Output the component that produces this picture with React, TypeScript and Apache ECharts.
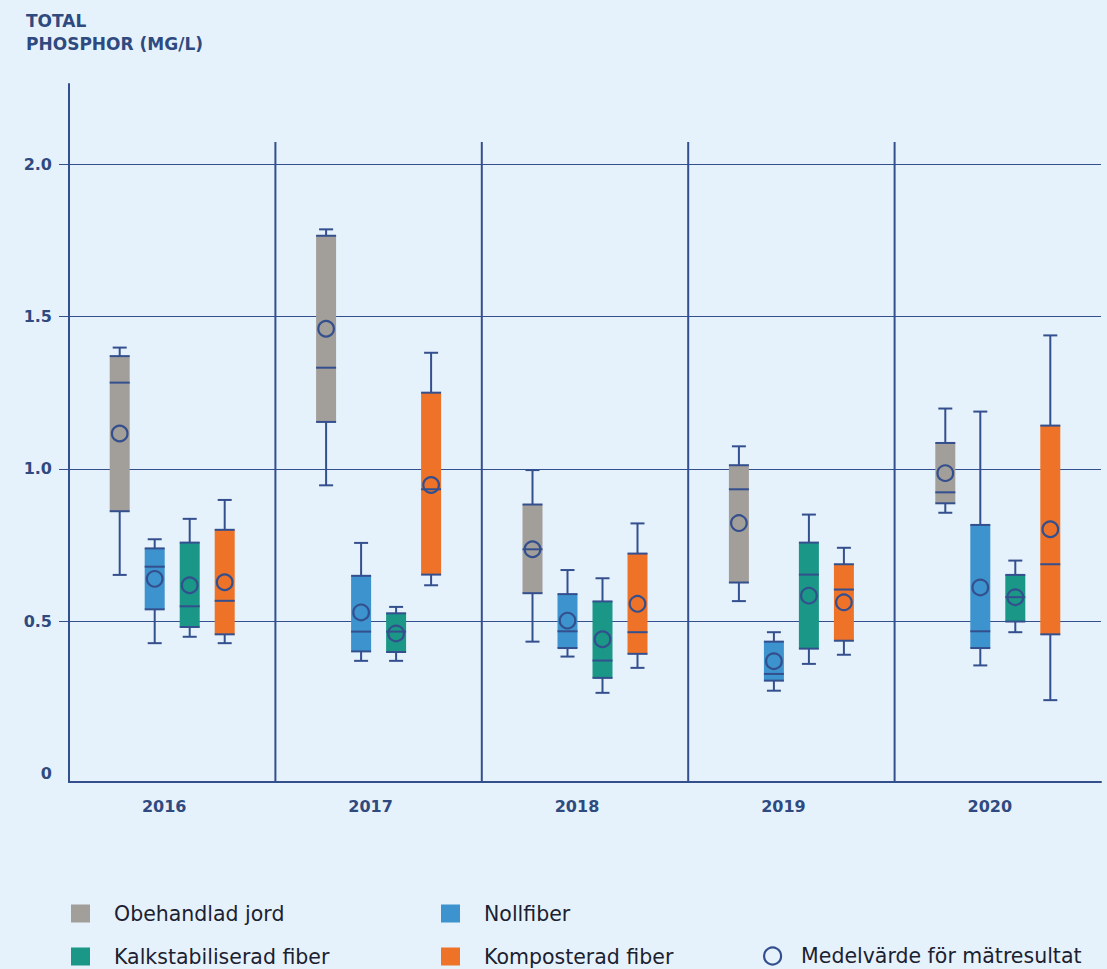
import React, { useEffect, useRef } from "react";
import * as echarts from "echarts";

// Years on the category axis
const years = ["2016", "2017", "2018", "2019", "2020"];

// Treatment groups (one box per group and year)
const groupNames = ["Obehandlad jord", "Nollfiber", "Kalkstabiliserad fiber", "Komposterad fiber"];
const meanName = "Medelvärde för mätresultat";

// Box statistics per year: [lower whisker, Q1, median, Q3, upper whisker] (mg/l)
const obehandladJord = [
  [0.652, 0.861, 1.283, 1.37, 1.398],
  [0.946, 1.154, 1.332, 1.765, 1.786],
  [0.433, 0.592, 0.736, 0.883, 0.996],
  [0.566, 0.627, 0.933, 1.012, 1.074],
  [0.856, 0.887, 0.923, 1.085, 1.198],
];
const nollfiber = [
  [0.428, 0.539, 0.679, 0.739, 0.769],
  [0.37, 0.401, 0.466, 0.649, 0.757],
  [0.384, 0.412, 0.467, 0.589, 0.668],
  [0.272, 0.305, 0.327, 0.433, 0.464],
  [0.355, 0.412, 0.467, 0.816, 1.188],
];
const kalkstabiliseradFiber = [
  [0.449, 0.481, 0.549, 0.758, 0.836],
  [0.37, 0.399, 0.466, 0.526, 0.547],
  [0.265, 0.314, 0.371, 0.565, 0.641],
  [0.36, 0.41, 0.653, 0.758, 0.85],
  [0.464, 0.499, 0.579, 0.652, 0.699],
];
const komposteradFiber = [
  [0.428, 0.457, 0.567, 0.8, 0.898],
  [0.618, 0.653, 0.933, 1.25, 1.381],
  [0.347, 0.393, 0.464, 0.722, 0.821],
  [0.39, 0.436, 0.604, 0.687, 0.741],
  [0.241, 0.457, 0.687, 1.142, 1.438],
];

// Mean values per group and year (mg/l)
const meanObehandladJord = [1.116, 1.46, 0.736, 0.822, 0.986];
const meanNollfiber = [0.639, 0.529, 0.502, 0.369, 0.611];
const meanKalkstabiliseradFiber = [0.618, 0.46, 0.441, 0.584, 0.579];
const meanKomposteradFiber = [0.628, 0.947, 0.557, 0.562, 0.802];

// Y axis
const yMin = -0.0276;
const yMax = 2.263;
const yTickValues = [0.5, 1, 1.5, 2];
const yLabelValues = [0, 0.5, 1, 1.5, 2];

const boxStats = [obehandladJord, nollfiber, kalkstabiliseradFiber, komposteradFiber];
const groupMeans = [meanObehandladJord, meanNollfiber, meanKalkstabiliseradFiber, meanKomposteradFiber];
const groupColors = ["#a29e99", "#3c93cd", "#1a9786", "#ee7328"];

const NAVY = "#344f8e";
const TEXT_NAVY = "#2f4a7f";
const BG = "#e6f2fb";
const SLOT_STEP = 35;
const BOX_HALF = 10;
const CAP_HALF = 7;

const slotX = (api: any, i: number, slot: number) =>
  api.coord([i, 0])[0] + (slot - 1.5) * SLOT_STEP;

const boxRenderer = (slot: number, color: string) => (params: any, api: any) => {
  const i = api.value(0);
  const cx = slotX(api, i, slot);
  const py = (k: number) => api.coord([i, api.value(k)])[1];
  const yLo = py(1);
  const yQ1 = py(2);
  const yMed = py(3);
  const yQ3 = py(4);
  const yHi = py(5);
  const ln = { stroke: NAVY, lineWidth: 2 };
  const hline = (y: number, half: number) => ({
    type: "line",
    shape: { x1: cx - half, y1: y, x2: cx + half, y2: y },
    style: ln,
  });
  return {
    type: "group",
    children: [
      { type: "line", shape: { x1: cx, y1: yHi, x2: cx, y2: yQ3 }, style: ln },
      { type: "line", shape: { x1: cx, y1: yQ1, x2: cx, y2: yLo }, style: ln },
      hline(yHi, CAP_HALF),
      hline(yLo, CAP_HALF),
      {
        type: "rect",
        shape: { x: cx - BOX_HALF, y: yQ3, width: BOX_HALF * 2, height: yQ1 - yQ3 },
        style: { fill: color },
      },
      hline(yQ3, BOX_HALF),
      hline(yQ1, BOX_HALF),
      hline(yMed, BOX_HALF),
    ],
  };
};

const meanRenderer = (params: any, api: any) => {
  const i = api.value(0);
  const slot = api.value(1);
  const cx = slotX(api, i, slot);
  const cy = api.coord([i, api.value(2)])[1];
  return {
    type: "circle",
    shape: { cx, cy, r: 7.8 },
    style: { fill: "none", stroke: NAVY, lineWidth: 2.2 },
  };
};

const dividerRenderer = (params: any, api: any) => {
  const v = api.value(0);
  const bw = api.size([1, 0])[0];
  const x = api.coord([v, 0])[0] - bw / 2;
  const cs = params.coordSys;
  return {
    type: "line",
    shape: { x1: x, y1: cs.y + 58, x2: x, y2: cs.y + cs.height },
    style: { stroke: NAVY, lineWidth: 2 },
  };
};

const legendText = {
  fontFamily: "DejaVu Sans",
  fontSize: 20.5,
  color: "#1b2131",
  lineHeight: 18,
};

const makeLegend = (name: string, left: number, top: number, extra: any = {}) => ({
  left,
  top,
  padding: 0,
  itemWidth: 19,
  itemHeight: 18,
  icon: "rect",
  selectedMode: false,
  textStyle: { ...legendText, padding: [0, 0, 0, 19] },
  data: [name],
  ...extra,
});

export default function App() {
  const ref = useRef<HTMLDivElement>(null);

  useEffect(() => {
    document.body.style.margin = "0";
    if (!ref.current) return;
    const chart = echarts.init(ref.current, undefined, { renderer: "svg" });

    const boxSeries = groupNames.map((name, g) => ({
      name,
      type: "custom",
      xAxisIndex: 0,
      yAxisIndex: 0,
      itemStyle: { color: groupColors[g] },
      renderItem: boxRenderer(g, groupColors[g]),
      encode: { x: 0, y: [1, 2, 3, 4, 5] },
      data: boxStats[g].map((s, i) => [i, ...s]),
      z: 3,
    }));

    const meanData: number[][] = [];
    groupMeans.forEach((arr, g) => arr.forEach((v, i) => meanData.push([i, g, v])));

    const option: any = {
      animation: false,
      backgroundColor: BG,
      title: {
        text: "TOTAL\nPHOSPHOR (MG/L)",
        left: 26,
        top: 9,
        padding: 0,
        textStyle: {
          fontFamily: "DejaVu Sans",
          fontWeight: "bold",
          fontSize: 17,
          lineHeight: 23,
          color: TEXT_NAVY,
        },
      },
      grid: { left: 69, right: 6, top: 84, bottom: 187, containLabel: false },
      xAxis: {
        type: "category",
        data: years,
        boundaryGap: true,
        axisLine: { show: true, onZero: false, lineStyle: { color: NAVY, width: 2 } },
        axisTick: { show: false },
        splitLine: { show: false },
        axisLabel: {
          margin: 16,
          fontFamily: "DejaVu Sans",
          fontWeight: "bold",
          fontSize: 16,
          color: TEXT_NAVY,
          padding: [0, 16, 0, 0],
        },
      },
      yAxis: {
        type: "value",
        min: yMin,
        max: yMax,
        axisLine: { show: true, lineStyle: { color: NAVY, width: 2 } },
        axisTick: {
          show: true,
          length: 10,
          customValues: yTickValues,
          lineStyle: { color: NAVY, width: 1 },
        },
        splitLine: {
          show: true,
          showMinLine: true,
          showMaxLine: true,
          lineStyle: { color: NAVY, width: 1 },
        },
        axisLabel: {
          customValues: yLabelValues,
          margin: 17,
          fontFamily: "DejaVu Sans",
          fontWeight: "bold",
          fontSize: 16,
          color: TEXT_NAVY,
          formatter: (v: number) => (v === 0 ? "0" : v.toFixed(1)),
        },
      },
      legend: [
        makeLegend(groupNames[0], 71, 903),
        makeLegend(groupNames[1], 441, 903),
        makeLegend(groupNames[2], 71, 946),
        makeLegend(groupNames[3], 441, 946),
        makeLegend(meanName, 763, 945.5, {
          itemWidth: 17,
          itemHeight: 17,
          textStyle: { ...legendText, lineHeight: 17, padding: [0, 0, 0, 15] },
          data: [
            {
              name: meanName,
              icon: "circle",
              itemStyle: { color: "rgba(0,0,0,0)", borderColor: NAVY, borderWidth: 2.2 },
            },
          ],
        }),
      ],
      series: [
        {
          name: "dividers",
          type: "custom",
          renderItem: dividerRenderer,
          encode: { x: 0 },
          data: [[1], [2], [3], [4]],
          z: 2,
          silent: true,
        },
        ...boxSeries,
        {
          name: meanName,
          type: "custom",
          itemStyle: { color: "rgba(0,0,0,0)", borderColor: NAVY },
          renderItem: meanRenderer,
          encode: { x: 0, y: 2 },
          data: meanData,
          z: 4,
        },
      ],
    };

    chart.setOption(option);
    return () => chart.dispose();
  }, []);

  return <div ref={ref} style={{ width: 1107, height: 969 }} />;
}
